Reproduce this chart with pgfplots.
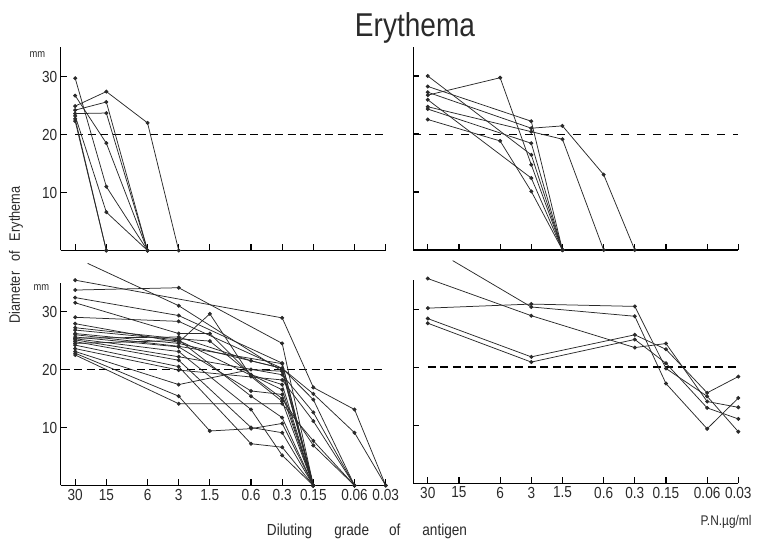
\documentclass[border=0pt]{standalone}
\usepackage{fontspec}
\setmainfont{Liberation Sans}[FakeStretch=0.85]
\usepackage{pgfplots}
\pgfplotsset{compat=1.18}
\definecolor{ink}{HTML}{2A2A2A}
\pgfplotsset{
  panel/.style={
    scale only axis, width=325pt, height=203pt,
    xmin=-0.14, xmax=3, ymin=0, ymax=35,
    axis lines=left, axis line style={-, line width=1.3pt, black},
    xtick={0,0.30103,0.69897,1,1.30103,1.69897,2,2.30103,2.69897,3},
    ytick={10,20,30},
    tick align=inside, major tick length=6pt,
    tick style={line width=1.1pt, black},
    clip=false,
    ticklabel style={font=\fontsize{16}{16}\selectfont, text=ink},
    cycle list={{ink, solid, mark=*, mark size=1.6pt, mark options={solid, fill=ink}},{ink, solid, mark=*, mark size=1.6pt, mark options={solid, fill=ink}}},
    every axis plot/.append style={line width=0.75pt},
  },
  xlab/.style={xticklabels={30,15,6,3,1.5,0.6,0.3,0.15,0.06,0.03}},
  nox/.style={xticklabels={}},
  ylab/.style={yticklabels={10,20,30}},
  noy/.style={yticklabels={}},
  thickdash/.style={line width=1.8pt, black, mark=none, dash pattern=on 8pt off 4.5pt},
  thindash/.style={line width=0.9pt, black, mark=none, dash pattern=on 8pt off 8pt},
  plain/.style={ink, solid, mark=none},
}
\begin{document}
\begin{tikzpicture}[x=1pt,y=1pt]
\path[use as bounding box] (0,0) rectangle (774,546);
\node[font=\fontsize{33}{33}\selectfont, text=ink] at (415,518) {Erythema};
\node[rotate=90, font=\fontsize{15}{15}\selectfont, text=ink] at (16,291) {Diameter\hspace{10pt}of\hspace{10pt}Erythema};
\node[font=\fontsize{16}{16}\selectfont, text=ink] at (367,15) {Diluting\hspace{22pt}grade\hspace{20pt}of\hspace{22pt}antigen};
\node[font=\fontsize{14}{14}\selectfont, text=ink] at (726,24) {P.N.µg/ml};

% ---------------- top left ----------------
\begin{axis}[panel, nox, ylab, at={(60.7pt,295.5pt)}, anchor=south west]
\addplot[thickdash] coordinates {(0,20) (3,20)};
\addplot coordinates {(0,24.9) (0.30103,27.4) (0.69897,22.0) (1,0)};
\addplot coordinates {(0,24.2) (0.30103,25.6) (0.69897,0)};
\addplot coordinates {(0,23.6) (0.30103,23.7) (0.69897,0)};
\addplot coordinates {(0,29.7) (0.30103,11.0) (0.69897,0)};
\addplot coordinates {(0,26.7) (0.30103,18.5) (0.69897,0)};
\addplot coordinates {(0,23.2) (0.30103,6.6) (0.69897,0)};
\addplot coordinates {(0,22.7) (0.30103,0)};
\addplot coordinates {(0,22.3) (0.30103,0)};
\node[anchor=north east, font=\fontsize{11}{11}\selectfont, text=ink] at (rel axis cs:0,1) [xshift=-12pt, yshift=-1pt] {mm};
\end{axis}

% ---------------- top right ----------------
\begin{axis}[panel, nox, noy, at={(413.3pt,296pt)}, anchor=south west]
\addplot[thindash] coordinates {(-0.14,20) (3,20)};
\addplot coordinates {(0,26.7) (0.69897,29.7) (1,14.7) (1.30103,0)};
\addplot coordinates {(0,30.0) (1,16.4) (1.30103,0)};
\addplot coordinates {(0,28.2) (1,22.2) (1.30103,0)};
\addplot coordinates {(0,27.2) (1,21.0) (1.30103,21.4) (1.69897,13.0) (2,0)};
\addplot coordinates {(0,24.7) (1,20.4) (1.30103,19.1) (1.69897,0)};
\addplot coordinates {(0,24.3) (1,18.4) (1.30103,0)};
\addplot coordinates {(0,25.9) (1,12.4) (1.30103,0)};
\addplot coordinates {(0,22.5) (0.69897,18.8) (1,10.1) (1.30103,0)};
\end{axis}

% ---------------- bottom left ----------------
\begin{axis}[panel, xlab, ylab, at={(60.7pt,60.5pt)}, anchor=south west]
\addplot[thickdash] coordinates {(-0.13,20) (2.97,20)};
\addplot coordinates {(0,35.4) (2,28.9) (2.30103,16.9) (2.69897,13.1) (3,0)};
\addplot coordinates {(0,33.7) (1,34.1) (2,24.5) (2.30103,0)};
\addplot coordinates {(0,32.4) (1,29.3) (2,21.1) (2.30103,0)};
\addplot coordinates {(0,31.5) (1,26.2) (1.30103,26.2) (1.69897,19.1) (2,17.4) (2.30103,0)};
\addplot coordinates {(0,29.0) (1,28.3) (2,20.2) (2.30103,15.8) (2.69897,9.1) (3,0)};
\addplot[plain] coordinates {(0.12,38.3) (1,31.0)};
\addplot coordinates {(1,31.0) (2,19.7) (2.30103,0)};
\addplot coordinates {(0,27.9) (1,24.7) (1.30103,29.6) (1.69897,18.8) (2,14.5) (2.30103,0)};
\addplot coordinates {(0,27.2) (1,25.3) (1.30103,24.9) (1.69897,19.1) (2,16.5) (2.30103,0)};
\addplot coordinates {(0,26.8) (1,25.1) (1.69897,15.4) (2,11.7) (2.30103,0)};
\addplot coordinates {(0,26.2) (1,24.5) (2,20.2) (2.30103,14.8) (2.69897,0)};
\addplot coordinates {(0,25.6) (1,23.9) (1.69897,16.3) (2,15.7) (2.30103,0)};
\addplot coordinates {(0,25.3) (1,23.1) (1.69897,13.1) (2,5.2) (2.30103,0)};
\addplot coordinates {(0,25.1) (1,22.2) (2,19.1) (2.30103,12.6) (2.69897,0)};
\addplot coordinates {(0,24.8) (1,21.6) (1.69897,10.0) (2,9.1) (2.30103,0)};
\addplot coordinates {(0,24.2) (1,20.5) (1.69897,7.2) (2,6.6) (2.30103,0)};
\addplot coordinates {(0,23.6) (1,19.9) (2,18.2) (2.30103,11.1) (2.69897,0)};
\addplot coordinates {(0,23.1) (1,17.4) (1.69897,20.0) (2,19.7) (2.30103,0)};
\addplot coordinates {(0,22.8) (1,15.4) (1.30103,9.4) (1.69897,9.8) (2,10.7) (2.30103,0)};
\addplot coordinates {(0,22.5) (1,14.1) (2,14.1) (2.30103,7.7) (2.69897,0)};
\addplot coordinates {(0,25.4) (1,25.6) (1.69897,21.5) (2,20.2) (2.30103,0)};
\addplot coordinates {(0,24.5) (1,25.0) (1.69897,19.0) (2,15.0) (2.30103,6.9) (2.69897,0)};
\addplot coordinates {(0,26.0) (1,24.0) (2,21.0) (2.30103,0)};
\node[anchor=north east, font=\fontsize{11}{11}\selectfont, text=ink] at (rel axis cs:0,1) [xshift=-8pt, yshift=1pt] {mm};
\end{axis}

% ---------------- bottom right ----------------
\begin{axis}[panel, xlab, noy, at={(413.3pt,62.7pt)}, anchor=south west]
\addplot[thickdash] coordinates {(0,20) (3,20)};
\addplot coordinates {(0,35.3) (1,28.9) (2,23.4) (2.30103,24.1) (2.69897,14.1) (3,13.1)};
\addplot[plain] coordinates {(0.24,38.4) (1,30.4)};
\addplot coordinates {(1,30.4) (2,28.8) (2.30103,17.2) (2.69897,9.4) (3,14.7)};
\addplot coordinates {(0,30.2) (1,30.9) (2,30.5) (2.30103,19.8) (2.69897,15.0) (3,8.9)};
\addplot coordinates {(0,28.4) (1,21.8) (2,25.6) (2.30103,23.1) (2.69897,15.6) (3,18.4)};
\addplot coordinates {(0,27.6) (1,20.9) (2,24.8) (2.30103,20.7) (2.69897,13.0) (3,11.1)};
\end{axis}
\end{tikzpicture}
\end{document}
